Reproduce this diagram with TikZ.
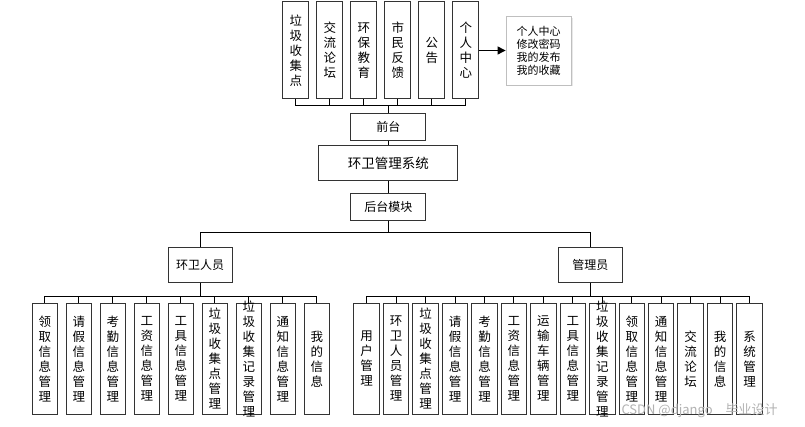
\documentclass[tikz,border=0pt]{standalone}
\usepackage{fontspec}
\setmainfont{Noto Sans CJK SC}
\usetikzlibrary{arrows.meta,shadows}
\begin{document}
\begin{tikzpicture}[x=1pt,y=-1pt,
  box/.style={draw=black!80,line width=1pt,fill=white,inner sep=0pt,align=center},
  topbox/.style={box,minimum width=26pt,minimum height=97pt},
  childbox/.style={box,minimum width=25.5pt,minimum height=111pt},
  vtext/.style={inner sep=0pt,align=center,font=\fontsize{12.5}{15}\selectfont},
  htext/.style={font=\fontsize{12}{14}\selectfont},
  conn/.style={draw=black,line width=1pt},
  infobox/.style={draw=black!25,line width=0.8pt,fill=white,inner sep=0pt,
    minimum width=65pt,minimum height=68.3pt,
    drop shadow={opacity=0.18,shadow xshift=1.5pt,shadow yshift=-1.5pt}},
  wmtext/.style={font=\fontsize{13}{15}\selectfont,text=black!30}
]
\useasboundingbox[fill=white] (0,0) rectangle (805,427);

% middle column
\node[box,htext,minimum width=75.3pt,minimum height=26.7pt] (qt) at (388.3,126.7) {前台};
\node[box,font=\fontsize{13.5}{15}\selectfont,minimum width=139pt,minimum height=35.3pt] (sys) at (388.3,163.3) {环卫管理系统};
\node[box,htext,minimum width=75.3pt,minimum height=26.7pt] (ht) at (388.3,206.7) {后台模块};
\node[box,htext,minimum width=63.7pt,minimum height=35.3pt] (hw) at (200.2,265) {环卫人员};
\node[box,htext,minimum width=64pt,minimum height=35.3pt] (gl) at (590.3,265) {管理员};

\draw[conn] (qt.south) -- (sys.north);
\draw[conn] (sys.south) -- (ht.north);
\coordinate (busM) at (388.3,232.3);
\draw[conn] (ht.south) -- (ht.south |- busM) -| (hw.north);
\draw[conn] (ht.south) -- (ht.south |- busM) -| (gl.north);

% top boxes
\coordinate (busT) at (388.3,106);
\foreach \i/\t in {1/{垃\\圾\\收\\集\\点},2/{交\\流\\论\\坛},3/{环\\保\\教\\育},4/{市\\民\\反\\馈},5/{公\\告},6/{个\\人\\中\\心}}{
  \node[topbox] (T\i) at ({295.8+34*(\i-1)},50.5) {};
  \node[vtext] at (T\i) {\t};
  \draw[conn] (qt.north) -- (qt.north |- busT) -| (T\i.south);
}

% info box
\node[infobox] (info) at (538.5,50.8) {};
\node[inner sep=0pt,align=left,font=\fontsize{11}{13}\selectfont] at (info) {个人中心\\修改密码\\我的发布\\我的收藏};
\draw[conn,-{Triangle[length=8pt,width=8pt]}] (T6.east) -- (T6.east -| info.west);

% left children
\coordinate (busL) at (200,296.7);
\foreach \i/\t in {1/{领\\取\\信\\息\\管\\理},2/{请\\假\\信\\息\\管\\理},3/{考\\勤\\信\\息\\管\\理},4/{工\\资\\信\\息\\管\\理},5/{工\\具\\信\\息\\管\\理},6/{垃\\圾\\收\\集\\点\\管\\理},7/{垃\\圾\\收\\集\\记\\录\\管\\理},8/{通\\知\\信\\息\\管\\理},9/{我\\的\\信\\息}}{
  \node[childbox] (L\i) at ({44.8+34*(\i-1)},358.8) {};
  \draw[conn] (hw.south) -- (hw.south |- busL) -| (L\i.north);
  \node[vtext] at (L\i) {\t};
}

% right children
\coordinate (busR) at (590,296.7);
\foreach \i/\t in {1/{用\\户\\管\\理},2/{环\\卫\\人\\员\\管\\理},3/{垃\\圾\\收\\集\\点\\管\\理},4/{请\\假\\信\\息\\管\\理},5/{考\\勤\\信\\息\\管\\理},6/{工\\资\\信\\息\\管\\理},7/{运\\输\\车\\辆\\管\\理},8/{工\\具\\信\\息\\管\\理},9/{垃\\圾\\收\\集\\记\\录\\管\\理},10/{领\\取\\信\\息\\管\\理},11/{通\\知\\信\\息\\管\\理},12/{交\\流\\论\\坛},13/{我\\的\\信\\息},14/{系\\统\\管\\理}}{
  \node[childbox] (R\i) at ({366.7+29.45*(\i-1)},358.8) {};
  \draw[conn] (gl.south) -- (gl.south |- busR) -| (R\i.north);
  \node[vtext] at (R\i) {\t};
}

% watermark
\node[wmtext,anchor=west] (wm) at (618,411) {CSDN @django\quad 毕业设计};
\end{tikzpicture}
\end{document}
